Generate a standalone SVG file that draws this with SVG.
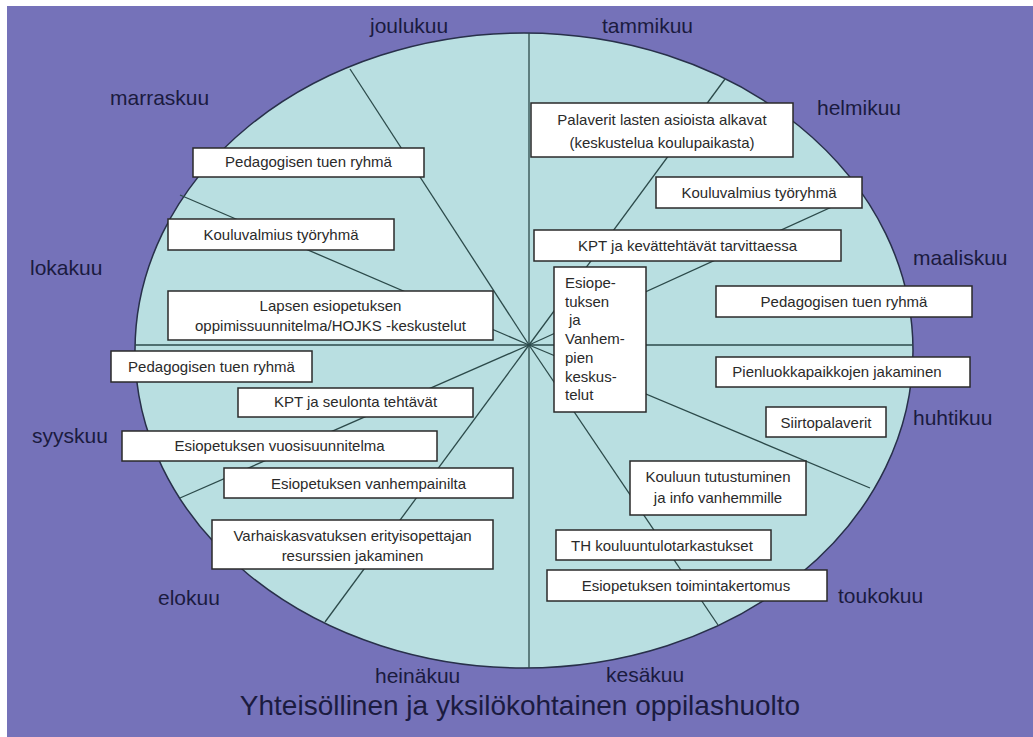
<svg xmlns="http://www.w3.org/2000/svg" width="1033" height="737" viewBox="0 0 1033 737">
<style>
.bg{fill:#7572b9}
.wheel{fill:#b9dfe1;stroke:#28304a;stroke-width:1.5}
.spoke{stroke:#2c4a4a;stroke-width:1.3;fill:none}
.box rect{fill:#ffffff;stroke:#2a2a2a;stroke-width:1.5}
.box text{font-family:"Liberation Sans",Arial,sans-serif;font-size:15px;fill:#2a2a2a;text-anchor:middle}
.box text.l{text-anchor:start}
.month{font-family:"Liberation Sans",Arial,sans-serif;font-size:21px;fill:#1b1b3f}
.title{font-family:"Liberation Sans",Arial,sans-serif;font-size:28px;fill:#1b1b3f;text-anchor:middle}
</style>
<rect x="0" y="0" width="1033" height="737" fill="#ffffff"/>
<rect class="bg" x="7" y="6" width="1026" height="731"/>
<ellipse class="wheel" cx="524" cy="350.5" rx="389" ry="317.5"/>
<g id="connectors">
<line class="spoke" x1="529" y1="33" x2="529" y2="668"/>
<line class="spoke" x1="135" y1="345" x2="913" y2="345"/>
<line class="spoke" x1="529" y1="345" x2="350" y2="69"/>
<line class="spoke" x1="529" y1="345" x2="180" y2="195"/>
<line class="spoke" x1="529" y1="345" x2="180" y2="498"/>
<line class="spoke" x1="529" y1="345" x2="325" y2="622"/>
<line class="spoke" x1="529" y1="345" x2="725" y2="79"/>
<line class="spoke" x1="529" y1="345" x2="858" y2="195"/>
<line class="spoke" x1="529" y1="345" x2="870" y2="488"/>
<line class="spoke" x1="529" y1="345" x2="718" y2="625"/>
</g>
<g id="n-ped1" class="box"><rect x="193" y="148" width="231" height="29"/><text x="308.5" y="167">Pedagogisen tuen ryhmä</text></g>
<g id="n-kouluvalmius1" class="box"><rect x="168" y="219" width="226" height="31"/><text x="281" y="240">Kouluvalmius työryhmä</text></g>
<g id="n-lapsen" class="box"><rect x="168" y="291" width="325" height="49"/><text x="330.5" y="311">Lapsen esiopetuksen</text><text x="330.5" y="331">oppimissuunnitelma/HOJKS -keskustelut</text></g>
<g id="n-ped2" class="box"><rect x="111" y="351" width="201" height="31"/><text x="211.5" y="372">Pedagogisen tuen ryhmä</text></g>
<g id="n-kpt1" class="box"><rect x="238" y="388" width="235" height="29"/><text x="355.5" y="407">KPT ja seulonta tehtävät</text></g>
<g id="n-vuosi" class="box"><rect x="122" y="431" width="315" height="30"/><text x="279.5" y="451">Esiopetuksen vuosisuunnitelma</text></g>
<g id="n-ilta" class="box"><rect x="224" y="468" width="289" height="30"/><text x="368.5" y="489">Esiopetuksen vanhempainilta</text></g>
<g id="n-varhais" class="box"><rect x="212" y="520" width="281" height="49"/><text x="352.5" y="541">Varhaiskasvatuksen erityisopettajan</text><text x="352.5" y="561">resurssien jakaminen</text></g>
<g id="n-palaverit" class="box"><rect x="531" y="103" width="262" height="54"/><text x="662" y="125">Palaverit lasten asioista alkavat</text><text x="662" y="148">(keskustelua koulupaikasta)</text></g>
<g id="n-kouluvalmius2" class="box"><rect x="656" y="177" width="206" height="31"/><text x="759" y="198">Kouluvalmius työryhmä</text></g>
<g id="n-kpt2" class="box"><rect x="534" y="230" width="307" height="31"/><text x="687.5" y="251">KPT ja kevättehtävät tarvittaessa</text></g>
<g id="n-esiope" class="box"><rect x="554" y="267" width="92" height="145"/>
<text class="l" x="565" y="288">Esiope-</text>
<text class="l" x="565" y="307">tuksen</text>
<text class="l" x="569" y="325">ja</text>
<text class="l" x="565" y="344">Vanhem-</text>
<text class="l" x="565" y="363">pien</text>
<text class="l" x="565" y="382">keskus-</text>
<text class="l" x="565" y="400">telut</text></g>
<g id="n-ped3" class="box"><rect x="716" y="286" width="256" height="31"/><text x="844" y="307">Pedagogisen tuen ryhmä</text></g>
<g id="n-pienluokka" class="box"><rect x="716" y="357" width="254" height="30"/><text x="837" y="377">Pienluokkapaikkojen jakaminen</text></g>
<g id="n-siirto" class="box"><rect x="766" y="407" width="120" height="30"/><text x="826" y="428">Siirtopalaverit</text></g>
<g id="n-kouluun" class="box"><rect x="630" y="461" width="176" height="54"/><text x="718" y="482">Kouluun tutustuminen</text><text x="718" y="503">ja info vanhemmille</text></g>
<g id="n-th" class="box"><rect x="556" y="530" width="215" height="30"/><text x="662" y="551">TH kouluuntulotarkastukset</text></g>
<g id="n-toiminta" class="box"><rect x="547" y="570" width="280" height="31"/><text x="686" y="591">Esiopetuksen toimintakertomus</text></g>
<g id="months">
<text class="month" x="370" y="33">joulukuu</text>
<text class="month" x="602" y="33">tammikuu</text>
<text class="month" x="110" y="105">marraskuu</text>
<text class="month" x="817" y="115">helmikuu</text>
<text class="month" x="913" y="265">maaliskuu</text>
<text class="month" x="30" y="275">lokakuu</text>
<text class="month" x="913" y="425">huhtikuu</text>
<text class="month" x="32" y="443">syyskuu</text>
<text class="month" x="158" y="605">elokuu</text>
<text class="month" x="838" y="603">toukokuu</text>
<text class="month" x="375" y="683">heinäkuu</text>
<text class="month" x="606" y="682">kesäkuu</text>
</g>
<text class="title" x="520" y="715">Yhteisöllinen ja yksilökohtainen oppilashuolto</text>
</svg>
